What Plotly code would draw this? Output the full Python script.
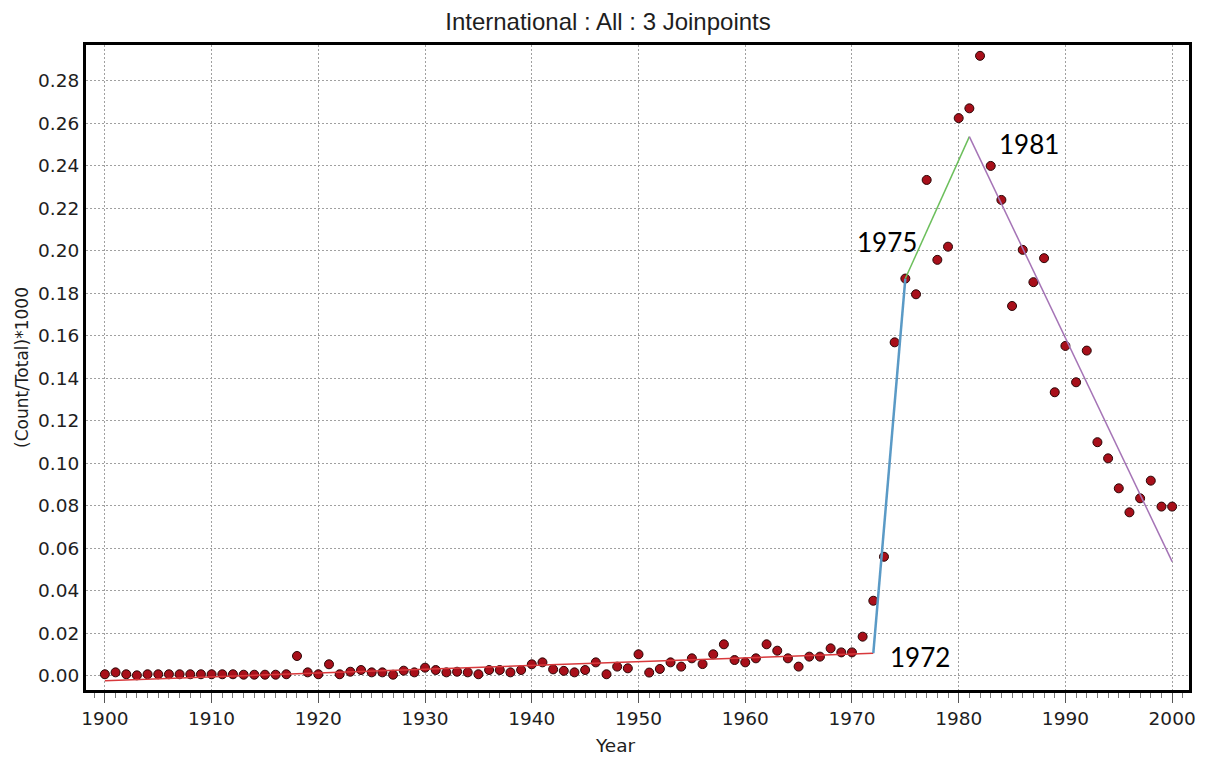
import plotly.graph_objects as go

# ---- data ----
years = list(range(1900, 2001))
rates = [
    0.0008, 0.0017, 0.0008, 0.0003, 0.0008, 0.0008, 0.0008, 0.0008, 0.0008, 0.0008,  # 1900-1909
    0.0008, 0.0008, 0.0008, 0.0006, 0.0006, 0.0006, 0.0006, 0.0008, 0.0094, 0.0017,  # 1910-1919
    0.0008, 0.0055, 0.0008, 0.0020, 0.0028, 0.0017, 0.0017, 0.0006, 0.0025, 0.0017,  # 1920-1929
    0.0039, 0.0028, 0.0017, 0.0020, 0.0017, 0.0008, 0.0028, 0.0028, 0.0017, 0.0028,  # 1930-1939
    0.0055, 0.0064, 0.0031, 0.0024, 0.0017, 0.0028, 0.0064, 0.0008, 0.0044, 0.0036,  # 1940-1949
    0.0102, 0.0016, 0.0033, 0.0064, 0.0044, 0.0083, 0.0056, 0.0102, 0.0149, 0.0075,  # 1950-1959
    0.0064, 0.0083, 0.0149, 0.0119, 0.0083, 0.0044, 0.0091, 0.0091, 0.0130, 0.0111,  # 1960-1969
    0.0111, 0.0185, 0.0354, 0.0561, 0.1570, 0.1870, 0.1796, 0.2334, 0.1958, 0.2020,  # 1970-1979
    0.2625, 0.2671, 0.2918, 0.2400, 0.2240, 0.1741, 0.2005, 0.1853, 0.1966, 0.1335,  # 1980-1989
    0.1553, 0.1382, 0.1531, 0.1100, 0.1024, 0.0883, 0.0770, 0.0836, 0.0919, 0.0797,  # 1990-1999
    0.0797,                                                                          # 2000
]

joinpoint_years = [1900, 1972, 1975, 1981, 2000]
fit_values = [-0.0022, 0.0107, 0.1870, 0.2538, 0.0538]
segment_colors = ["#d8393c", "#5a9ac6", "#6cbf5c", "#a574b6"]
segment_widths = [1.5, 2.5, 1.5, 1.5]

labelled_joinpoints = [1972, 1975, 1981]
label_shifts = {1972: (47, -4), 1975: (-18, 37), 1981: (60, -7)}

x_ticks = list(range(1900, 2001, 10))
title_text = "International : All : 3 Joinpoints"
x_title = "Year"
y_title = "(Count/Total)*1000"

TXT = "#1e1e1e"

# ---- figure ----
fig = go.Figure()

fig.add_trace(go.Scatter(
    x=years, y=rates, mode="markers",
    marker=dict(size=9, color="#a80f1a", line=dict(color="#2a0606", width=1)),
    showlegend=False, hoverinfo="x+y",
))

for i in range(len(joinpoint_years) - 1):
    fig.add_trace(go.Scatter(
        x=joinpoint_years[i:i + 2], y=fit_values[i:i + 2], mode="lines",
        line=dict(color=segment_colors[i], width=segment_widths[i]),
        showlegend=False, hoverinfo="skip",
    ))

for jp in labelled_joinpoints:
    idx = joinpoint_years.index(jp)
    dx, dy = label_shifts[jp]
    fig.add_annotation(
        x=jp, y=fit_values[idx], xref="x", yref="y", text=str(jp),
        showarrow=False, xshift=dx, yshift=dy,
        font=dict(family="Lato", size=26, color="black"),
    )

# x-axis title placed slightly left of centre, as in the original
fig.add_annotation(
    x=0.48, y=0, xref="paper", yref="paper", yanchor="top", yshift=-43,
    text=x_title, showarrow=False,
    font=dict(family="DejaVu Sans", size=18.5, color=TXT),
)

grid_dash = "2px,2px"
# page body adds an 8px offset, so the figure is 8px smaller than the window
fig.update_layout(
    width=1200, height=749,
    margin=dict(l=77, r=13, t=37, b=67),
    paper_bgcolor="white", plot_bgcolor="white",
    title=dict(text=title_text, x=0.5, xanchor="center", y=1 - 14 / 749, yanchor="middle",
               font=dict(family="Liberation Sans", size=24, color=TXT)),
    font=dict(family="DejaVu Sans", size=18.5, color=TXT),
)

fig.update_xaxes(
    range=[1898.23, 2001.58],
    tickvals=x_ticks, ticktext=[str(t) for t in x_ticks],
    ticks="outside", ticklen=10, tickwidth=1, tickcolor="#555555",
    minor=dict(dtick=1, tick0=1900, ticks="outside", ticklen=5, tickwidth=1, tickcolor="#777777",
               showgrid=False),
    showgrid=True, gridcolor="#a0a0a0", gridwidth=1, griddash=grid_dash,
    showline=True, linecolor="black", linewidth=3, mirror=True,
    zeroline=False,
    tickfont=dict(family="DejaVu Sans", size=18.5, color=TXT),
)

fig.update_yaxes(
    range=[-0.0066, 0.2969],
    tick0=0, dtick=0.02, tickformat=".2f",
    ticks="", showgrid=True, gridcolor="#a0a0a0", gridwidth=1, griddash=grid_dash,
    showline=True, linecolor="black", linewidth=3, mirror=True,
    zeroline=False,
    title=dict(text=y_title, font=dict(family="DejaVu Sans", size=17, color=TXT), standoff=6),
    tickfont=dict(family="DejaVu Sans", size=18.5, color=TXT),
)

fig.write_html("out.html")
